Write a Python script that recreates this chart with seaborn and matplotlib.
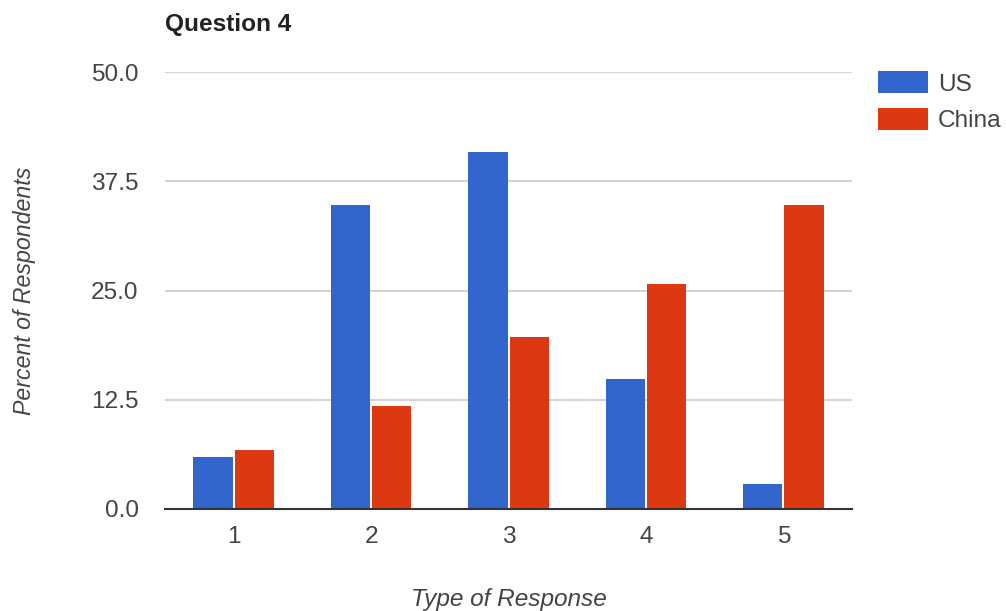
import pandas as pd
import matplotlib
matplotlib.use("Agg")
import matplotlib.pyplot as plt
import seaborn as sns

# values (percent of respondents)
responses = ["1", "2", "3", "4", "5"]
us_values = [5.9, 34.8, 40.9, 14.9, 2.9]
china_values = [6.8, 11.8, 19.7, 25.8, 34.8]
countries = ["US", "China"]
y_ticks = [0.0, 12.5, 25.0, 37.5, 50.0]

df = pd.DataFrame(
    {
        "response": responses * 2,
        "percent": us_values + china_values,
        "country": ["US"] * len(responses) + ["China"] * len(responses),
    }
)

sns.set_style("white")
plt.rcParams["font.family"] = ["Liberation Sans", "DejaVu Sans"]
FS = 17.6

fig = plt.figure(figsize=(10.06, 6.11), dpi=100)
ax = fig.add_axes([0.164, 0.167, 0.683, 0.715])

sns.barplot(
    data=df,
    x="response",
    y="percent",
    hue="country",
    hue_order=countries,
    palette={"US": "#3366cc", "China": "#dc3912"},
    width=0.6,
    gap=0.05,
    saturation=1,
    linewidth=0,
    errorbar=None,
    ax=ax,
    zorder=3,
)

ax.set_ylim(0, 50)
ax.set_xlim(-0.5, 4.5)
ax.set_yticks(y_ticks)
ax.set_yticklabels([f"{t:.1f}" for t in y_ticks])
ax.yaxis.grid(True, color="#cccccc", linewidth=1.2, zorder=0)
ax.set_axisbelow(True)
for side in ["top", "right", "left"]:
    ax.spines[side].set_visible(False)
ax.spines["bottom"].set_color("#333333")
ax.spines["bottom"].set_linewidth(1.5)
ax.spines["bottom"].set_zorder(5)
ax.tick_params(axis="both", length=0, labelsize=FS, colors="#444444")
ax.tick_params(axis="y", pad=19)
ax.tick_params(axis="x", pad=12)

ax.set_xlabel("Type of Response", fontsize=FS, style="italic", color="#444444", labelpad=29)
ax.set_ylabel("Percent of Respondents", fontsize=16.7, style="italic", color="#444444", labelpad=40)

fig.text(0.164, 0.949, "Question 4", fontsize=FS, fontweight="bold", color="#222222", va="baseline")

ax.legend(
    loc="upper left",
    bbox_to_anchor=(1.038, 1.002),
    frameon=False,
    fontsize=FS,
    handlelength=2.05,
    handleheight=1.0,
    handletextpad=0.4,
    labelspacing=0.5,
    borderaxespad=0,
    borderpad=0,
    labelcolor="#444444",
)

fig.savefig("out.png", dpi=100)
